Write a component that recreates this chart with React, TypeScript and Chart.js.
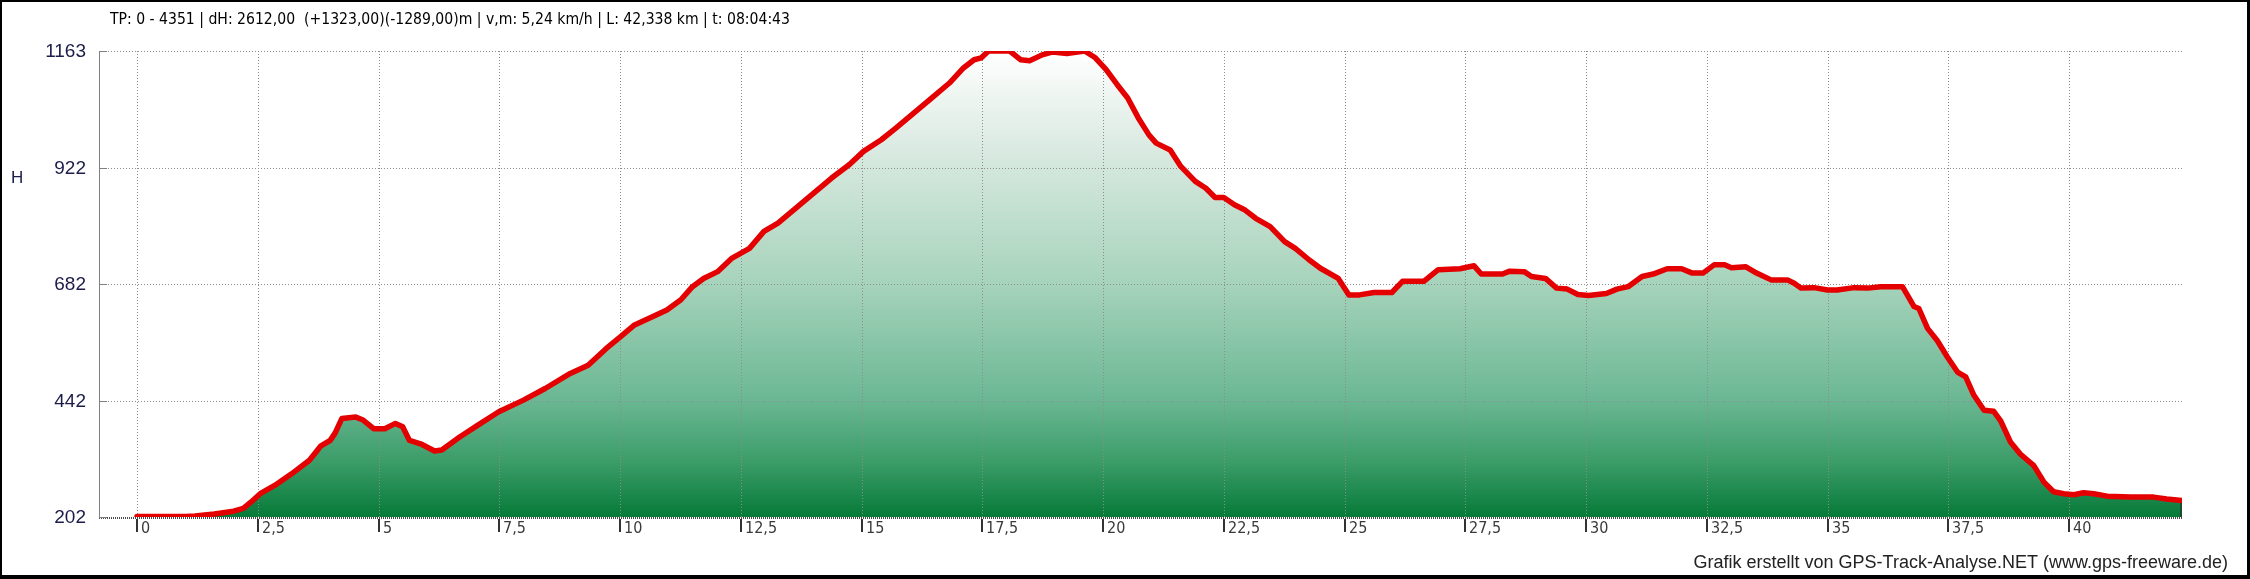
import React, { useEffect, useRef } from "react";
import { Chart, registerables } from "chart.js";

Chart.register(...registerables);

// Track profile: distance (km) and elevation (m)
const distanceKm = [
  0, 0.5, 1.0, 1.2, 1.6, 2.0, 2.2, 2.35, 2.55, 2.85, 3.2, 3.57, 3.8, 4.0, 4.1, 4.24, 4.53, 4.68, 4.9, 5.13,
  5.35, 5.5, 5.64, 5.87, 6.16, 6.31, 6.68, 7.05, 7.49, 8.0, 8.45, 8.97, 9.34, 9.71, 10.0, 10.3, 10.67, 10.97, 11.26, 11.5,
  11.73, 12.02, 12.32, 12.68, 12.98, 13.27, 13.64, 14.01, 14.38, 14.75, 15.04, 15.41, 15.71, 16.08, 16.45, 16.82, 17.11, 17.33, 17.48, 17.63,
  18.07, 18.29, 18.48, 18.74, 18.96, 19.25, 19.47, 19.62, 19.84, 20.06, 20.29, 20.51, 20.73, 20.95, 21.1, 21.39, 21.61, 21.91, 22.13, 22.32,
  22.5, 22.72, 22.94, 23.16, 23.46, 23.76, 23.98, 24.27, 24.5, 24.87, 25.09, 25.31, 25.61, 25.98, 26.2, 26.64, 26.94, 27.39, 27.68, 27.83,
  28.27, 28.42, 28.72, 28.87, 29.16, 29.39, 29.61, 29.83, 30.05, 30.42, 30.64, 30.87, 31.16, 31.39, 31.68, 31.98, 32.2, 32.42, 32.65, 32.87,
  33.01, 33.31, 33.53, 33.83, 34.17, 34.31, 34.45, 34.72, 35.0, 35.2, 35.55, 35.83, 36.1, 36.55, 36.65, 36.79, 36.89, 37.07, 37.27, 37.48,
  37.69, 37.86, 38.03, 38.24, 38.44, 38.58, 38.79, 38.99, 39.27, 39.48, 39.68, 39.89, 40.1, 40.3, 40.51, 40.79, 41.27, 41.75, 42.02, 42.338,
];
const elevationM = [
  203, 203, 203, 204, 208, 214, 220, 232, 250, 267, 291, 319, 348, 360, 375, 405, 408, 402, 384, 384,
  395, 388, 360, 353, 338, 340, 367, 391, 419, 443, 467, 498, 515, 549, 573, 598, 615, 629, 650, 677,
  694, 708, 736, 756, 791, 808, 839, 870, 901, 929, 956, 980, 1004, 1035, 1066, 1097, 1128, 1145, 1149, 1163,
  1163, 1145, 1143, 1155, 1161, 1158, 1161, 1163, 1149, 1125, 1094, 1066, 1025, 990, 973, 959, 925, 894, 880, 861,
  861, 846, 835, 818, 801, 770, 756, 732, 715, 694, 660, 660, 665, 665, 688, 688, 712, 714, 720, 703,
  703, 709, 708, 698, 694, 674, 672, 661, 659, 663, 672, 677, 698, 703, 714, 714, 705, 705, 722, 722,
  716, 718, 705, 691, 691, 684, 674, 675, 670, 670, 675, 674, 677, 677, 660, 636, 632, 591, 566, 532,
  501, 491, 453, 422, 420, 401, 356, 332, 308, 274, 254, 250, 248, 252, 250, 245, 243, 243, 239, 236,
];

const yTickValues = [202, 442.25, 682.5, 922.75, 1163];
const yTickLabels = ["202", "442", "682", "922", "1163"];
const xTickValues = [0, 2.5, 5, 7.5, 10, 12.5, 15, 17.5, 20, 22.5, 25, 27.5, 30, 32.5, 35, 37.5, 40];
const xTickLabels = ["0", "2,5", "5", "7,5", "10", "12,5", "15", "17,5", "20", "22,5", "25", "27,5", "30", "32,5", "35", "37,5", "40"];

const headerText = "TP: 0 - 4351 | dH: 2612,00  (+1323,00)(-1289,00)m | v,m: 5,24 km/h | L: 42,338 km | t: 08:04:43";
const footerText = "Grafik erstellt von GPS-Track-Analyse.NET (www.gps-freeware.de)";
const yAxisTitle = "H";

const X_MIN = -0.787;
const X_MAX = 42.338;
const Y_MIN = 202;
const Y_MAX = 1163;

const W = 2250;
const H = 579;
const NARROW = "'Liberation Sans Narrow', 'DejaVu Sans Condensed', 'Liberation Sans', Arial, sans-serif";
const REGULAR = "'Liberation Sans', Arial, sans-serif";

const decorPlugin = {
  id: "decor",
  afterDatasetDraw(chart: any, args: any) {
    if (args.index !== 1) return;
    const { ctx, chartArea: a, scales } = chart;
    const x = scales.x;
    const y = scales.y;
    ctx.save();
    ctx.strokeStyle = "#8c8c8c";
    ctx.lineWidth = 1;
    ctx.setLineDash([1, 2]);
    yTickValues.forEach((v, i) => {
      if (i === 0) return;
      const py = Math.round(y.getPixelForValue(v)) + 0.5;
      ctx.beginPath();
      ctx.moveTo(a.left, py);
      ctx.lineTo(a.right, py);
      ctx.stroke();
    });
    xTickValues.forEach((v) => {
      const px = Math.round(x.getPixelForValue(v)) + 0.5;
      ctx.beginPath();
      ctx.moveTo(px, a.top);
      ctx.lineTo(px, a.bottom);
      ctx.stroke();
    });
    // bottom axis (dotted, darker)
    ctx.strokeStyle = "#4a4a4a";
    ctx.lineWidth = 2;
    ctx.setLineDash([1, 1]);
    const by = Math.round(y.getPixelForValue(Y_MIN)) + 1;
    ctx.beginPath();
    ctx.moveTo(a.left, by);
    ctx.lineTo(a.right, by);
    ctx.stroke();
    // right edge of the filled area
    ctx.setLineDash([]);
    ctx.strokeStyle = "#1d4a33";
    ctx.lineWidth = 2;
    const lastX = x.getPixelForValue(distanceKm[distanceKm.length - 1]) - 1;
    ctx.beginPath();
    ctx.moveTo(lastX, y.getPixelForValue(elevationM[elevationM.length - 1]));
    ctx.lineTo(lastX, a.bottom);
    ctx.stroke();
    ctx.restore();
  },
  afterDraw(chart: any) {
    const { ctx, chartArea: a, scales } = chart;
    const x = scales.x;
    const y = scales.y;
    ctx.save();
    // y axis line
    ctx.strokeStyle = "#808080";
    ctx.lineWidth = 1;
    ctx.beginPath();
    ctx.moveTo(a.left + 0.5, a.top);
    ctx.lineTo(a.left + 0.5, a.bottom + 1);
    ctx.stroke();
    // y tick stubs + labels
    ctx.font = `19px ${REGULAR}`;
    ctx.fillStyle = "#1c1c4a";
    ctx.textAlign = "right";
    ctx.textBaseline = "middle";
    yTickValues.forEach((v, i) => {
      const py = Math.round(y.getPixelForValue(v)) + 0.5;
      ctx.beginPath();
      ctx.moveTo(a.left, py);
      ctx.lineTo(a.left + 8, py);
      ctx.stroke();
      ctx.fillText(yTickLabels[i], 86, py);
    });
    // y title
    ctx.font = `17px ${REGULAR}`;
    ctx.textAlign = "left";
    ctx.fillText(yAxisTitle, 11, 178);
    // x ticks + labels
    ctx.strokeStyle = "#333";
    ctx.lineWidth = 2;
    ctx.fillStyle = "#3a3a3a";
    ctx.font = `16px ${NARROW}`;
    ctx.textAlign = "left";
    ctx.textBaseline = "top";
    xTickValues.forEach((v, i) => {
      const px = Math.round(x.getPixelForValue(v));
      ctx.beginPath();
      ctx.moveTo(px, a.bottom + 2);
      ctx.lineTo(px, a.bottom + 15);
      ctx.stroke();
      ctx.fillText(xTickLabels[i], px + 4, a.bottom + 4);
    });
    // header
    ctx.fillStyle = "#000";
    ctx.font = `15.6px ${NARROW}`;
    ctx.textBaseline = "middle";
    ctx.fillText(headerText, 110, 20);
    // footer
    ctx.fillStyle = "#222";
    ctx.font = `18px ${REGULAR}`;
    ctx.textAlign = "right";
    ctx.fillText(footerText, 2228, 563);
    // frame
    ctx.fillStyle = "#000";
    ctx.fillRect(0, 0, W, 2);
    ctx.fillRect(0, 0, 2, H);
    ctx.fillRect(W - 3, 0, 3, H);
    ctx.fillRect(0, H - 4, W, 4);
    ctx.restore();
  },
};

export default function App() {
  const canvasRef = useRef<HTMLCanvasElement | null>(null);

  useEffect(() => {
    const canvas = canvasRef.current;
    if (!canvas) return;
    const points = distanceKm.map((d, i) => ({ x: d, y: elevationM[i] }));
    const chart = new Chart(canvas, {
      type: "line",
      data: {
        datasets: [
          {
            label: "H",
            data: points,
            borderColor: "#e40000",
            borderWidth: 5.5,
            pointRadius: 0,
            tension: 0,
            fill: false,
            borderJoinStyle: "round",
            borderCapStyle: "round",
          },
          {
            label: "fill",
            data: points,
            borderWidth: 0,
            pointRadius: 0,
            tension: 0,
            fill: "start",
            backgroundColor: (context: any) => {
              const { chart } = context;
              const { ctx, chartArea } = chart;
              if (!chartArea) return "rgba(0,0,0,0)";
              const g = ctx.createLinearGradient(0, chartArea.top, 0, chartArea.bottom);
              g.addColorStop(0, "#ffffff");
              g.addColorStop(0.2, "#dcebe3");
              g.addColorStop(0.5, "#a6d3bb");
              g.addColorStop(0.75, "#6ab793");
              g.addColorStop(0.88, "#3c9d69");
              g.addColorStop(1, "#067a38");
              return g;
            },
          },
        ],
      },
      options: {
        responsive: false,
        animation: false,
        devicePixelRatio: 1,
        layout: { padding: { left: 99, right: 68, top: 51, bottom: 62 } },
        plugins: { legend: { display: false }, tooltip: { enabled: false } },
        scales: {
          x: { type: "linear", min: X_MIN, max: X_MAX, display: false },
          y: { type: "linear", min: Y_MIN, max: Y_MAX, display: false },
        },
      },
      plugins: [decorPlugin],
    });
    return () => chart.destroy();
  }, []);

  return (
    <div style={{ position: "absolute", left: 0, top: 0, width: W, height: H, background: "#fff" }}>
      <canvas ref={canvasRef} width={W} height={H} style={{ display: "block" }} />
    </div>
  );
}
